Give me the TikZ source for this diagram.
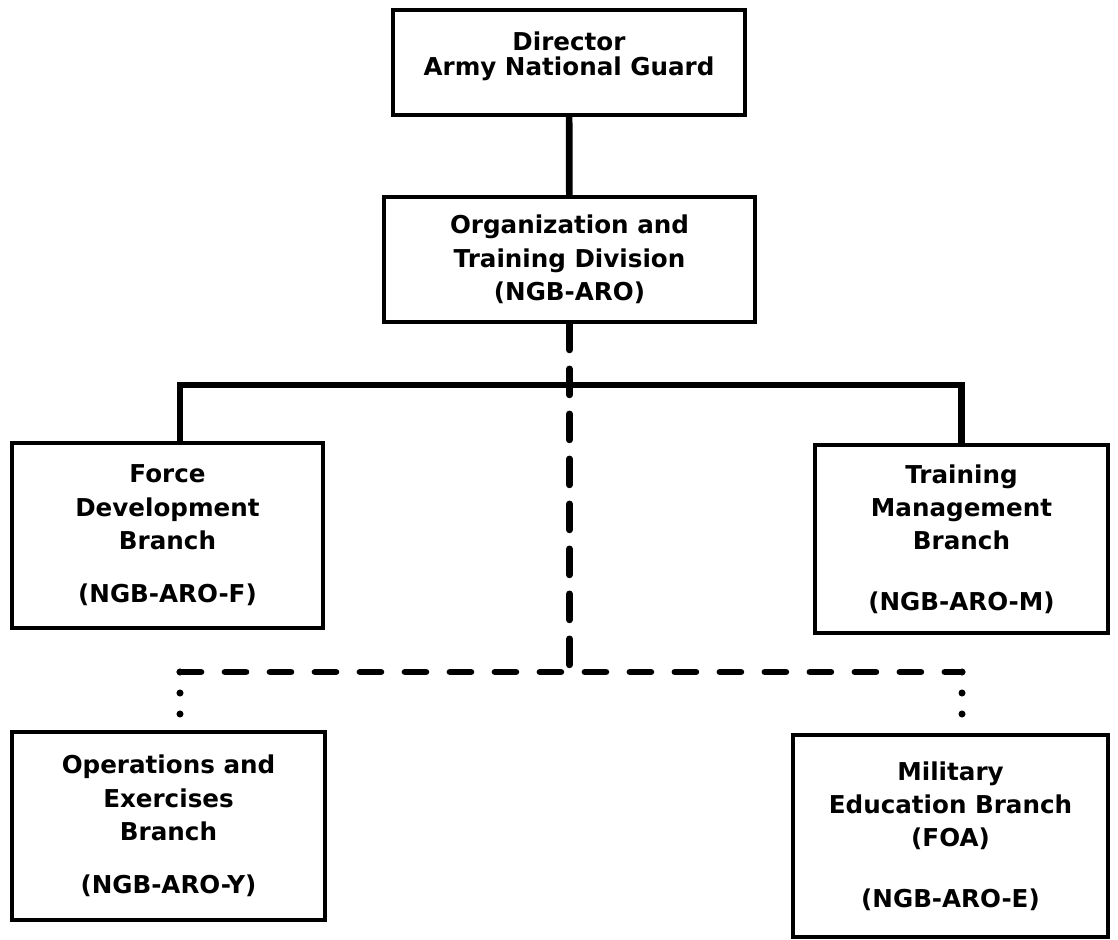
\documentclass[tikz,border=0pt]{standalone}
\usepackage{fontspec}
\setmainfont{DejaVu Sans}
\usetikzlibrary{positioning}

\begin{document}
\begin{tikzpicture}[x=0.02cm,y=-0.02cm,
    unit/.style={draw,line width=2.2pt,align=center,inner sep=0pt,font=\bfseries\fontsize{14}{19}\selectfont},
    solidlink/.style={line width=3.8pt},
    dashlink/.style={line width=3.8pt,line cap=round,dash pattern=on 0.42cm off 0.48cm},
    vdashlink/.style={line width=3.8pt,line cap=round,dash pattern=on 0.52cm off 0.38cm},
    dotlink/.style={line width=4pt,line cap=round,dash pattern=on 0pt off 0.42cm}]
      \useasboundingbox (0,0) rectangle (1118,939);
      \node[unit,minimum width=7.04cm,minimum height=2.1cm](dir) at (569,62.5){Director\\[-0.17cm]Army National Guard\\[-0.3cm]\mbox{}};
      \node[unit,minimum width=7.42cm,minimum height=2.5cm](org) at (569.5,259.5){Organization and\\Training Division\\(NGB-ARO)};
      \node[unit,minimum width=6.22cm,minimum height=3.7cm](force) at (167.5,535.5){Force\\Development\\Branch\\[0.4cm](NGB-ARO-F)};
      \node[unit,minimum width=5.86cm,minimum height=3.76cm](train) at (961.5,539){Training\\Management\\Branch\\[0.54cm](NGB-ARO-M)};
      \node[unit,minimum width=6.26cm,minimum height=3.76cm](ops) at (168.5,826){Operations and\\Exercises\\Branch\\[0.4cm](NGB-ARO-Y)};
      \node[unit,minimum width=6.3cm,minimum height=4.04cm](mil) at (950.5,836){Military\\Education Branch\\(FOA)\\[0.54cm](NGB-ARO-E)};
      % line points
      \coordinate (bar) at (180,385);
      \coordinate (lc) at (180,672);
      \coordinate (rc) at (962,672);
      \coordinate (ld) at (180,720);
      \coordinate (rd) at (962,720);
      \draw[solidlink] (dir) -- (org);
      \draw[solidlink] (bar |- force.north) -- (bar) -| (train.north);
      \draw[vdashlink] (org.south) -- (org.south |- lc);
      \draw[dashlink] (lc) -- (rc);
      \draw[dotlink] (lc) -- (ld);
      \draw[dotlink] (rc) -- (rd);
    \end{tikzpicture}
\end{document}
